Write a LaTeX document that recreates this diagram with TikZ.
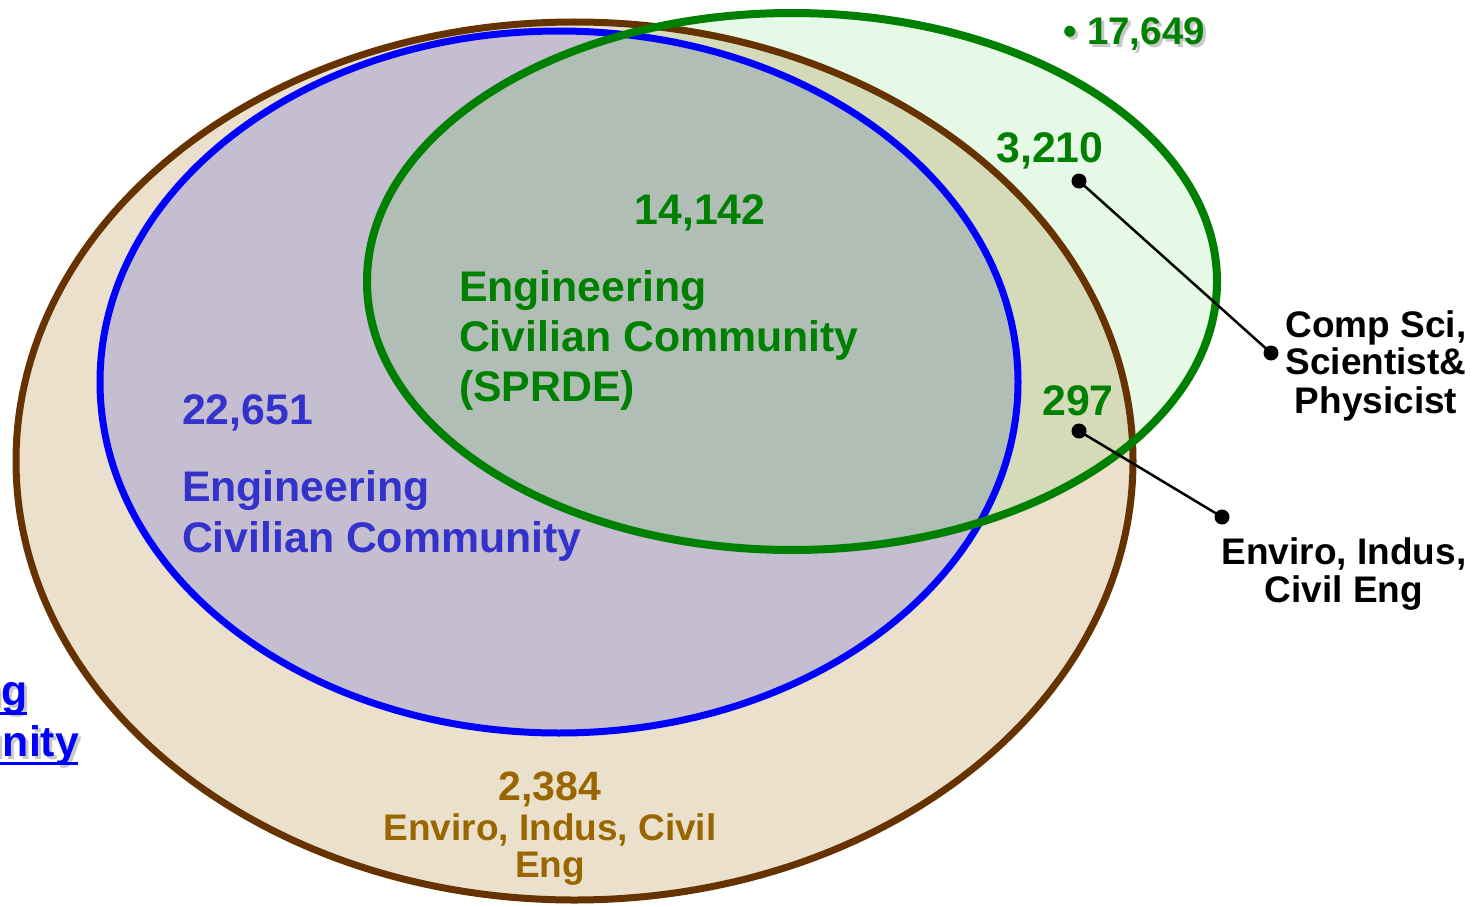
\documentclass[tikz,border=0pt]{standalone}
\usepackage{fontspec}
\setmainfont{Liberation Sans}
\definecolor{cBeige}{HTML}{EAE0CC}
\definecolor{cLav}{HTML}{C5BDD0}
\definecolor{cMint}{HTML}{E6F8E6}
\definecolor{cOlive}{HTML}{D5DBB8}
\definecolor{cSage}{HTML}{B0BEB6}
\definecolor{cBrown}{HTML}{663300}
\definecolor{cGreen}{HTML}{008000}
\definecolor{cBlueTxt}{HTML}{3333CC}
\definecolor{cGold}{HTML}{996600}
\definecolor{cLink}{HTML}{0000FF}
\definecolor{cShade}{HTML}{C8C8C8}
% text with a soft drop shadow behind it
\newcommand{\shadowed}[1]{\rlap{\hspace{3pt}\raisebox{-3pt}{\textcolor{cShade}{#1}}}#1}
\begin{document}
\begin{tikzpicture}[x=1pt,y=-1pt,
  txt/.style={inner sep=0pt, outer sep=0pt},
  big/.style={txt, font=\fontsize{42.8}{50}\selectfont\bfseries},
  mid/.style={txt, font=\fontsize{37}{39}\selectfont\bfseries},
  num/.style={txt, font=\fontsize{41}{48}\selectfont\bfseries},
  dotnode/.style={circle, fill=black, inner sep=0pt, minimum size=15pt},
  leader/.style={line width=2.5pt, black},
]
\useasboundingbox (0,0) rectangle (1481,907);

% region fills
\fill[cBeige] (574.5,461) ellipse [x radius=558.5, y radius=439];
\fill[cLav] (559,382) ellipse [x radius=459, y radius=351];
\fill[cMint] (792,281.5) ellipse [x radius=425, y radius=268.5];
\begin{scope}
  \clip (792,281.5) ellipse [x radius=425, y radius=268.5];
  \fill[cOlive] (574.5,461) ellipse [x radius=558.5, y radius=439];
  \fill[cSage] (559,382) ellipse [x radius=459, y radius=351];
\end{scope}

% outlines
\draw[cBrown, line width=7pt] (574.5,461) ellipse [x radius=558.5, y radius=439];
\draw[cLink, line width=7pt] (559,382) ellipse [x radius=459, y radius=351];
\draw[cGreen, line width=8pt] (792,281.5) ellipse [x radius=425, y radius=268.5];

% link text running off the left edge
\begin{scope}
  \clip (0,600) rectangle (200,800);
  \node[big, text=cLink, anchor=base east] (link1) at (28,705) {\shadowed{Engineering}};
  \node[big, text=cLink, anchor=base east] (link2) at (79,756) {\shadowed{Community}};
  \draw[cLink, line width=3pt] ([yshift=-8pt]link1.base west) -- ([yshift=-8pt,xshift=-1pt]link1.base east);
  \draw[cLink, line width=3pt] ([yshift=-7pt]link2.base west) -- ([yshift=-7pt,xshift=-1pt]link2.base east);
\end{scope}

% green set labels
\node[txt, font=\fontsize{38.5}{40}\selectfont\bfseries, text=cGreen, anchor=base west] (total) at (1063,45) {\shadowed{\textbullet\ 17,649}};
\node[big, text=cGreen, anchor=base] (n3210) at (1050,162) {3,210};
\node[big, text=cGreen, anchor=base] (n14142) at (700,224) {14,142};
\node[big, text=cGreen, anchor=base west] (sp1) at (459,301) {Engineering};
\node[big, text=cGreen, anchor=base west] (sp2) at (459,351) {Civilian Community};
\node[big, text=cGreen, anchor=base west] (sp3) at (459,401) {(SPRDE)};
\node[big, text=cGreen, anchor=base] (n297) at (1078,415) {297};

% blue set labels
\node[big, text=cBlueTxt, anchor=base west] (n22651) at (182,424) {22,651};
\node[big, text=cBlueTxt, anchor=base west] (ec1) at (182,501) {Engineering};
\node[big, text=cBlueTxt, anchor=base west] (ec2) at (182,552) {Civilian Community};

% brown set labels
\node[num, text=cGold, anchor=base] (n2384) at (550,800) {2,384};
\node[mid, text=cGold, anchor=base] (br1) at (550,840) {Enviro, Indus, Civil};
\node[mid, text=cGold, anchor=base] (br2) at (550,877) {Eng};

% callouts
\node[mid, anchor=base] (cs1) at (1376,337) {Comp Sci,};
\node[mid, anchor=base] (cs2) at (1376,374) {Scientist\&};
\node[mid, anchor=base] (cs3) at (1376,413) {Physicist};
\node[mid, anchor=base] (ev1) at (1344,564) {Enviro, Indus,};
\node[mid, anchor=base] (ev2) at (1344,602) {Civil Eng};

\node[dotnode] (d1) at (1079,181) {};
\node[dotnode] (d2) at (1271,353) {};
\node[dotnode] (d3) at (1079,431) {};
\node[dotnode] (d4) at (1222,517) {};
\draw[leader] (d1.center) -- (d2.center);
\draw[leader] (d3.center) -- (d4.center);
\end{tikzpicture}
\end{document}
